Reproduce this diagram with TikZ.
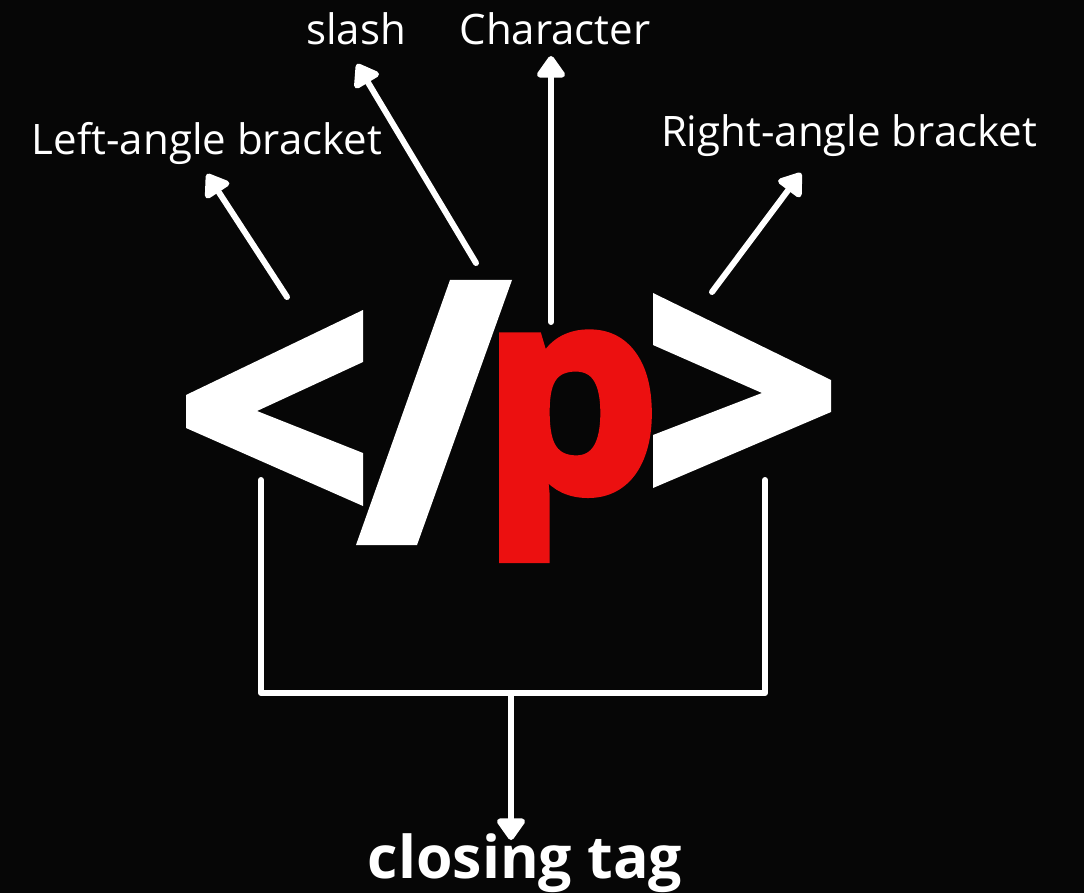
\documentclass[tikz,border=0pt]{standalone}
\usepackage{fontspec}
\setmainfont{Open Sans}
\newfontfamily\pfont{Open Sans}[BoldFeatures={FakeBold=3}]
\usetikzlibrary{arrows.meta,positioning,calc}
\definecolor{bg}{HTML}{060606}
\definecolor{tagred}{HTML}{EC1010}
\begin{document}
\begin{tikzpicture}[x=1pt,y=-1pt,
  lbl/.style={text=white, inner sep=0pt, anchor=base, font=\fontsize{42}{50}\selectfont},
  arr/.style={draw=white, line width=6pt, line cap=round, -{Triangle[length=24pt,width=32pt,round]}},
  brk/.style={draw=white, line width=6pt, line cap=round, line join=round},
  glyph/.style={fill=white}]
\fill[bg] (0,0) rectangle (1084,893);
\useasboundingbox (0,0) rectangle (1084,893);

\fill[glyph] (363,310) -- (186,395) -- (186,428) -- (363,506) -- (363,453) -- (257,411) -- (363,362) -- cycle;
\fill[glyph] (356,545) -- (417,545) -- (512,280) -- (450,280) -- cycle;
\fill[glyph] (653,293) -- (831,380) -- (831,412) -- (653,488) -- (653,435) -- (762,393) -- (653,345) -- cycle;
\node[text=tagred, inner sep=0pt, anchor=base west, font=\pfont\bfseries\fontsize{283}{290}\selectfont] (chr) at (481,491) {p};

\node[lbl] (left) at (207,155) {Left-angle bracket};
\node[lbl] (slash) at (356,45) {slash};
\node[lbl] (char) at (555,45) {Character};
\node[lbl] (right) at (849,147) {Right-angle bracket};
\node[text=white, inner sep=0pt, anchor=base, font=\bfseries\fontsize{59}{64}\selectfont] (close) at (525,878) {closing tag};

\coordinate (lt) at (287,297);
\coordinate (ltip) at (207,174);
\coordinate (st) at (476,263);
\coordinate (stip) at (357,64);
\coordinate (ct) at (551,322);
\coordinate (ctip) at (551,56);
\coordinate (rt) at (712,292);
\coordinate (rtip) at (801,173);
\coordinate (bl) at (261,480);
\coordinate (br) at (765,480);
\coordinate (bm) at (511,693);
\coordinate (btip) at (511,840);

\draw[arr] (lt) -- (ltip);
\draw[arr] (st) -- (stip);
\draw[arr] (ct) -- (ctip);
\draw[arr] (rt) -- (rtip);
\draw[brk] (bl) |- (bm) -| (br);
\draw[arr] (bm) -- (btip);
\end{tikzpicture}
\end{document}
